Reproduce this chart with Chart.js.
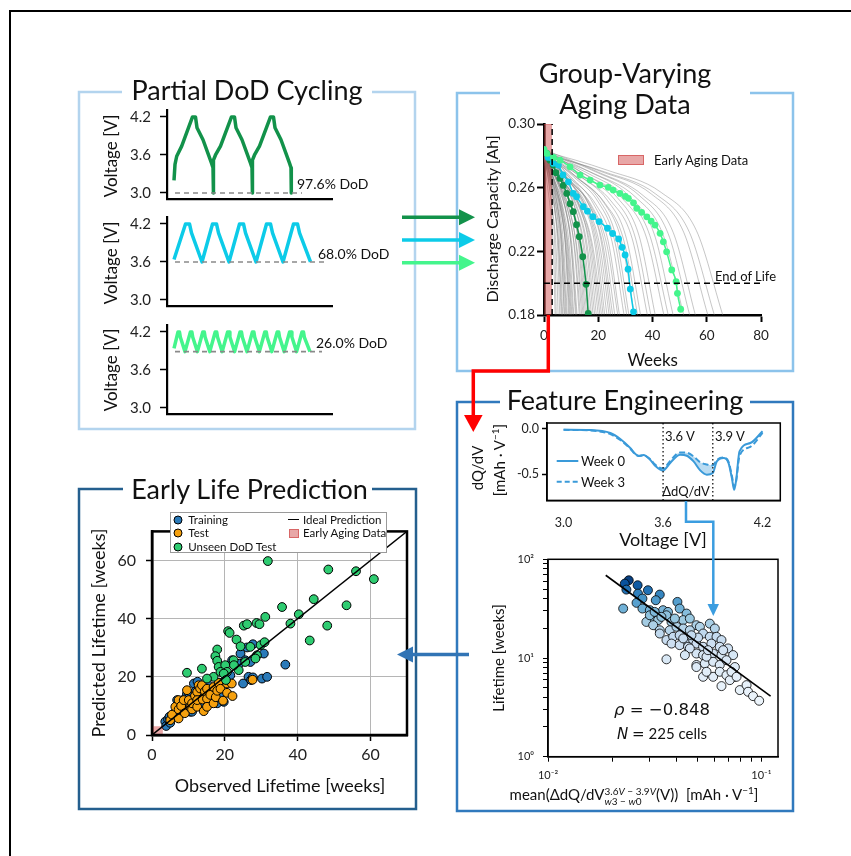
<!DOCTYPE html>
<html>
<head>
<meta charset="utf-8">
<script src="https://cdn.jsdelivr.net/npm/chart.js@4.4.1/dist/chart.umd.min.js"></script>
<style>
  html, body { margin: 0; padding: 0; background: #fff; }
  #fig { position: relative; width: 851px; height: 856px; overflow: hidden; font-family: Lato, sans-serif; color: #111; }
  #fig canvas { position: absolute; z-index: 1; }
  #fig svg { position: absolute; left: 0; top: 0; z-index: 2; }
  .t { position: absolute; z-index: 3; white-space: nowrap; line-height: 1; transform: translate(-50%, -50%); }
  .l { transform: translate(0, -50%); }
  .v { transform: translate(-50%, -50%) rotate(-90deg); }
  .ttl { font-size: 27px; background: #fff; }
  .math { font-family: "DejaVu Sans", sans-serif; }
  .ss { display: inline-block; vertical-align: middle; font-size: 10px; line-height: 10px; text-align: left; }
  .ss span { display: block; }
  #legPred { position: absolute; z-index: 3; left: 170px; top: 512px; width: 217px; height: 41px; border: 1px solid #9a9a9a; background: #fff; box-sizing: border-box; }
  .dot { position: absolute; width: 7px; height: 7px; border-radius: 50%; border: 1px solid #000; transform: translate(-50%, -50%); }
</style>
</head>
<body>
<div id="fig">
  <div style="position:absolute;left:9px;top:10px;width:900px;height:900px;border-left:2px solid #000;border-top:2px solid #000"></div>

  <svg width="851" height="856">
    <g fill="none" stroke-width="2.5">
      <path d="M372 92 H415 V429 H79 V92 H122" stroke="#b3d4ee"/>
      <path d="M750 93 H793 V371 H457 V93 H500" stroke="#8cc3eb"/>
      <path d="M750 402 H793 V811 H457 V402 H500" stroke="#3079bd"/>
      <path d="M372 489 H416 V809 H79 V489 H123" stroke="#245f8e"/>
    </g>
    <!-- arrows from the cycling panel -->
    <line x1="402" y1="217.3" x2="461" y2="217.3" stroke="#12924a" stroke-width="3.5"/>
    <polygon points="459,209.3 475,217.3 459,225.3" fill="#12924a"/>
    <line x1="402" y1="240" x2="461" y2="240" stroke="#0ccbe8" stroke-width="3.5"/>
    <polygon points="459,232 475,240 459,248" fill="#0ccbe8"/>
    <line x1="402" y1="262.7" x2="461" y2="262.7" stroke="#44f58c" stroke-width="3.5"/>
    <polygon points="459,254.7 475,262.7 459,270.7" fill="#44f58c"/>
    <!-- early data to features -->
    <polyline points="548.3,315 548.3,371 473.3,371 473.3,418" fill="none" stroke="#ff0000" stroke-width="3.5"/>
    <polygon points="464,415 482.6,415 473.3,432" fill="#ff0000"/>
    <!-- feature to correlation -->
    <polyline points="686,501 686,521.7 713.3,521.7 713.3,606" fill="none" stroke="#3b9de0" stroke-width="2.5"/>
    <polygon points="707.5,604 719,604 713.3,616" fill="#3b9de0"/>
    <!-- features to prediction -->
    <line x1="469" y1="654.5" x2="411" y2="654.5" stroke="#3174b5" stroke-width="3.5"/>
    <polygon points="413,646.5 413,662.5 397,654.5" fill="#3174b5"/>
    <!-- dQ/dV legend samples -->
    <line x1="556.7" y1="461" x2="578.3" y2="461" stroke="#3a9ad9" stroke-width="2"/>
    <line x1="556.7" y1="481.7" x2="578.3" y2="481.7" stroke="#3a9ad9" stroke-width="2" stroke-dasharray="5 3"/>
  </svg>

  <!-- panel titles -->
  <div class="t ttl" style="left:247px;top:89px;padding:0 4px">Partial DoD Cycling</div>
  <div class="t ttl" style="left:625px;top:72px">Group-Varying</div>
  <div class="t ttl" style="left:625px;top:102.5px;padding:0 4px">Aging Data</div>
  <div class="t ttl" style="left:625px;top:398.7px;padding:0 4px">Feature Engineering</div>
  <div class="t ttl" style="left:249.5px;top:488px;padding:0 4px">Early Life Prediction</div>

  <!-- cycling panel text -->
  <div class="t v" style="left:110px;top:156px;font-size:17px">Voltage [V]</div>
  <div class="t v" style="left:110px;top:263px;font-size:17px">Voltage [V]</div>
  <div class="t v" style="left:110px;top:370px;font-size:17px">Voltage [V]</div>
  <div class="t l" style="left:297px;top:184px;font-size:14px">97.6% DoD</div>
  <div class="t l" style="left:318px;top:254px;font-size:14px">68.0% DoD</div>
  <div class="t l" style="left:316px;top:343px;font-size:14px">26.0% DoD</div>

  <!-- aging panel text -->
  <div class="t v" style="left:491.7px;top:219px;font-size:16px">Discharge Capacity [Ah]</div>
  <div class="t" style="left:652.7px;top:359px;font-size:17px">Weeks</div>
  <div style="position:absolute;z-index:3;left:618px;top:155px;width:26px;height:10px;background:rgba(205,60,60,0.45);border:1px solid rgba(205,60,60,0.6);box-sizing:border-box"></div>
  <div class="t l" style="left:654px;top:160px;font-size:13px">Early Aging Data</div>
  <div class="t l" style="left:715px;top:276px;font-size:13px">End of Life</div>

  <!-- feature engineering text -->
  <div class="t v" style="left:476.7px;top:467.5px;font-size:15px">dQ/dV</div>
  <div class="t v" style="left:497.7px;top:460px;font-size:15px">[mAh · V<sup style="font-size:10px">−1</sup>]</div>
  <div class="t" style="left:663px;top:539.3px;font-size:18px">Voltage [V]</div>
  <div class="t l" style="left:665px;top:436px;font-size:13px">3.6 V</div>
  <div class="t l" style="left:715px;top:436px;font-size:13px">3.9 V</div>
  <div class="t" style="left:686px;top:490.7px;font-size:13px">ΔdQ/dV</div>
  <div class="t l" style="left:581px;top:461px;font-size:13px">Week 0</div>
  <div class="t l" style="left:581px;top:481.7px;font-size:13px">Week 3</div>
  <div class="t v" style="left:497.7px;top:657.5px;font-size:15px">Lifetime [weeks]</div>
  <div class="t" style="left:634px;top:796px;font-size:15px">mean(ΔdQ/dV<span class="ss"><span>3.6<i>V</i> − 3.9<i>V</i></span><span><i>w</i>3 − <i>w</i>0</span></span>(V))&nbsp; [mAh · V<sup style="font-size:10px">−1</sup>]</div>
  <div class="t math" style="left:662px;top:710px;font-size:16.5px"><i>ρ</i> = −0.848</div>
  <div class="t" style="left:662px;top:734px;font-size:15px"><i class="math">N</i> <span class="math">=</span> 225 cells</div>

  <!-- prediction panel text -->
  <div class="t v" style="left:98.3px;top:633px;font-size:18px">Predicted Lifetime [weeks]</div>
  <div class="t" style="left:280px;top:785px;font-size:18px">Observed Lifetime [weeks]</div>
  <div id="legPred">
    <div class="dot" style="left:6.7px;top:6.5px;background:#2a7ab9"></div>
    <div class="t l" style="left:17.3px;top:6.5px;font-size:11.5px">Training</div>
    <div class="dot" style="left:6.7px;top:20.2px;background:#f5a00e"></div>
    <div class="t l" style="left:17.3px;top:20.2px;font-size:11.5px">Test</div>
    <div class="dot" style="left:6.7px;top:34.2px;background:#2ecc71"></div>
    <div class="t l" style="left:17.3px;top:34.2px;font-size:11.5px">Unseen DoD Test</div>
    <div style="position:absolute;left:117px;top:5.8px;width:11px;height:1.5px;background:#000"></div>
    <div class="t l" style="left:132px;top:6.5px;font-size:11.5px">Ideal Prediction</div>
    <div style="position:absolute;left:118px;top:15.5px;width:10px;height:9px;background:rgba(205,60,60,0.45);border:1px solid rgba(205,60,60,0.6);box-sizing:border-box"></div>
    <div class="t l" style="left:132px;top:20.2px;font-size:11.5px">Early Aging Data</div>
  </div>
</div>

<script>
// ---- Partial DoD cycling: time (a.u.) vs voltage [V]
const voltTicks = [3.0, 3.6, 4.2];
const cycle97 = [[7,3.20],[8,3.45],[9.7,3.58],[14.7,3.74],[25.5,4.20],[28.5,4.20],[30,4.03],[36,3.84],[44.5,3.47],[46,3.40],[46.3,3.00],[46.6,3.52],[48.5,3.60],[53.5,3.74],[64.5,4.20],[67.5,4.20],[69,4.03],[75,3.84],[83.5,3.47],[85,3.40],[85.3,3.00],[85.6,3.52],[87.5,3.60],[92.5,3.74],[103.5,4.20],[106.5,4.20],[108,4.03],[114,3.84],[122.5,3.47],[124,3.40],[124.3,3.00]];
const cycle68 = [[7,3.64],[18.5,4.20],[22.5,4.20],[24.5,4.06],[35,3.60],[45.5,4.20],[49.5,4.20],[51.5,4.06],[62,3.60],[72.5,4.20],[76.5,4.20],[78.5,4.06],[89,3.60],[99.5,4.20],[103.5,4.20],[105.5,4.06],[116,3.60],[126.5,4.20],[130.5,4.20],[132.5,4.06],[143.5,3.60]];
const cycle26 = [[7,3.94],[11,4.20],[12.5,4.20],[13.3,4.12],[18,3.89],[23.4,4.20],[24.9,4.20],[25.7,4.12],[30.4,3.89],[35.8,4.20],[37.3,4.20],[38.1,4.12],[42.8,3.89],[48.2,4.20],[49.7,4.20],[50.5,4.12],[55.2,3.89],[60.6,4.20],[62.1,4.20],[62.9,4.12],[67.6,3.89],[73,4.20],[74.5,4.20],[75.3,4.12],[80,3.89],[85.4,4.20],[86.9,4.20],[87.7,4.12],[92.4,3.89],[97.8,4.20],[99.3,4.20],[100.1,4.12],[104.8,3.89],[110.2,4.20],[111.7,4.20],[112.5,4.12],[117.2,3.89],[122.6,4.20],[124.1,4.20],[124.9,4.12],[129.6,3.89],[135,4.20],[136.5,4.20],[137.3,4.12],[143,3.89]];
const floor97 = [[8,3.0],[135,3.0]];
const floor68 = [[8,3.6],[158,3.6]];
const floor26 = [[8,3.89],[155,3.89]];

// ---- Aging: weeks vs discharge capacity [Ah]
const agingXTicks = [0, 20, 40, 60, 80];
const agingYTicks = [0.18, 0.22, 0.26, 0.30];
const earlyWeeks = 3;
const endOfLife = 0.2;
const grayCurves = [
  [[0,.277],[1.2,.262],[2.6,.242],[3.5,.22],[4.1,.18]],
  [[0,.284],[1.5,.266],[3,.245],[4,.222],[4.5,.18]],
  [[0,.281],[1.8,.263],[3.4,.243],[4.5,.220],[5.2,.18]],
  [[0,.286],[2,.268],[3.8,.248],[5,.224],[5.8,.18]],
  [[0,.279],[2.2,.262],[4.1,.244],[5.4,.221],[6.3,.18]],
  [[0,.285],[2.3,.264],[4.3,.244],[5.6,.22],[6.6,.18]],
  [[0,.283],[2.4,.266],[4.5,.247],[5.9,.222],[6.9,.18]],
  [[0,.285],[2.6,.268],[4.9,.249],[6.4,.224],[7.4,.18]],
  [[0,.279],[2.5,.262],[5,.243],[6.5,.22],[7.6,.18]],
  [[0,.280],[2.8,.263],[5.2,.245],[6.8,.221],[8,.18]],
  [[0,.282],[2.9,.264],[5.4,.245],[7,.22],[8.3,.18]],
  [[0,.282],[3,.265],[5.6,.247],[7.3,.222],[8.6,.18]],
  [[0,.284],[3.2,.267],[6,.249],[7.8,.225],[9.1,.18]],
  [[0,.286],[3.3,.266],[6.1,.246],[8,.222],[9.4,.18]],
  [[0,.278],[3.4,.262],[6.3,.245],[8.2,.221],[9.7,.18]],
  [[0,.284],[3.5,.265],[6.5,.246],[8.5,.221],[10,.18]],
  [[0,.283],[3.6,.266],[6.7,.248],[8.7,.223],[10.3,.18]],
  [[0,.279],[3.8,.262],[7,.244],[9.1,.22],[10.7,.18]],
  [[0,.281],[3.9,.264],[7.2,.246],[9.4,.222],[11,.18]],
  [[0,.285],[4.1,.268],[7.6,.25],[9.9,.225],[11.6,.18]],
  [[0,.284],[4.2,.266],[7.8,.247],[10.1,.222],[11.9,.18]],
  [[0,.280],[4.3,.263],[8,.246],[10.4,.222],[12.2,.18]],
  [[0,.283],[4.6,.266],[8.5,.248],[11.1,.223],[13,.18]],
  [[0,.281],[4.7,.264],[8.7,.246],[11.4,.221],[13.4,.18]],
  [[0,.282],[4.9,.265],[9.1,.248],[11.9,.223],[13.9,.18]],
  [[0,.282],[5,.264],[9.5,.245],[12.3,.22],[14.4,.18]],
  [[0,.286],[5.2,.268],[9.7,.25],[12.6,.226],[14.8,.18]],
  [[0,.285],[5.4,.267],[10,.249],[13,.224],[15.3,.18]],
  [[0,.279],[5.6,.263],[10.4,.246],[13.5,.222],[15.8,.18]],
  [[0,.280],[5.8,.263],[10.8,.246],[14,.221],[16.4,.18]],
  [[0,.283],[6,.266],[11.1,.249],[14.4,.224],[16.9,.18]],
  [[0,.286],[6.2,.266],[11.5,.247],[15,.222],[17.5,.18]],
  [[0,.281],[6.4,.265],[11.9,.248],[15.5,.224],[18.1,.18]],
  [[0,.283],[6.6,.266],[12.2,.248],[15.9,.224],[18.7,.18]],
  [[0,.284],[6.8,.267],[12.6,.25],[16.4,.226],[19.3,.18]],
  [[0,.281],[7.1,.264],[13.1,.247],[17.1,.223],[20,.18]],
  [[0,.280],[7.3,.264],[13.5,.247],[17.6,.223],[20.6,.18]],
  [[0,.280],[7.5,.263],[14,.246],[18.2,.221],[21.2,.18]],
  [[0,.283],[7.7,.267],[14.3,.25],[18.6,.226],[21.8,.18]],
  [[0,.284],[7.9,.267],[14.7,.25],[19.1,.226],[22.4,.18]],
  [[0,.282],[8.2,.266],[15.2,.249],[19.8,.225],[23.2,.18]],
  [[0,.283],[8.5,.266],[16,.248],[20.5,.224],[24,.18]],
  [[0,.285],[8.7,.268],[16.1,.251],[21,.227],[24.6,.18]],
  [[0,.282],[9,.266],[16.6,.249],[21.6,.225],[25.3,.18]],
  [[0,.281],[9.2,.265],[17.1,.249],[22.3,.225],[26.1,.18]],
  [[0,.280],[9.6,.264],[17.8,.248],[23.2,.224],[27.2,.18]],
  [[0,.283],[9.8,.267],[18.2,.25],[23.7,.226],[27.8,.18]],
  [[0,.280],[10.4,.265],[19.3,.249],[25.1,.226],[29.5,.18]],
  [[0,.283],[10.8,.267],[20,.251],[26,.227],[30.5,.18]],
  [[0,.284],[11.1,.268],[20.5,.252],[26.7,.228],[31.3,.18]],
  [[0,.282],[11.8,.267],[21.9,.251],[28.5,.227],[33.4,.18]],
  [[0,.281],[12.2,.266],[22.6,.25],[29.4,.227],[34.5,.18]],
  [[0,.283],[12.6,.268],[23.4,.252],[30.4,.228],[35.6,.18]],
  [[0,.281],[13.5,.267],[25,.251],[32.5,.228],[38.1,.18]],
  [[0,.284],[13.9,.268],[25.8,.253],[33.6,.229],[39.4,.18]],
  [[0,.284],[14.5,.269],[26.9,.254],[35,.230],[41,.18]],
  [[0,.282],[15.6,.268],[29,.253],[37.7,.229],[44.2,.18]],
  [[0,.282],[16.2,.269],[30,.254],[39,.23],[45.8,.18]],
  [[0,.283],[16.8,.27],[31.2,.255],[40.6,.231],[47.6,.18]],
  [[0,.281],[18.2,.269],[33.8,.254],[44,.230],[51.5,.18]],
  [[0,.283],[19,.27],[35.2,.255],[45.8,.231],[53.7,.18]],
  [[0,.284],[19.7,.27],[36.6,.255],[47.6,.232],[55.8,.18]],
  [[0,.282],[21.3,.27],[39.6,.256],[51.5,.232],[60.4,.18]],
  [[0,.281],[22.2,.27],[41.2,.256],[53.6,.232],[62.8,.18]],
  [[0,.283],[23.3,.271],[43.2,.257],[56.2,.233],[65.9,.18]]
];
const cell97 = [[0,.2825],[1,.2815],[2.2,.2773],[3.4,.2742],[4.4,.2694],[5.9,.2658],[7.1,.2614],[8.4,.2564],[9.6,.2499],[10.8,.2449],[12,.2367],[13,.2292],[14.3,.2166],[15.5,.1993],[16.3,.181]];
const cell68 = [[0,.283],[1.5,.279],[3.4,.2753],[5.3,.2742],[7,.268],[9,.2637],[10.8,.2564],[12,.2543],[14.5,.248],[16,.2452],[18,.2418],[20.3,.2387],[23.4,.2345],[25.3,.2312],[27.5,.2278],[28.8,.2225],[29.9,.2177],[31,.2088],[31.8,.1963],[33,.182]];
const cell26 = [[0,.284],[1,.2815],[3.5,.279],[5.9,.2773],[9.6,.2731],[13.3,.2679],[17,.2648],[20.6,.2616],[23.7,.2602],[25.5,.2585],[28,.2564],[30,.2545],[31.1,.2533],[33,.2505],[34.2,.247],[36,.2445],[37.9,.2417],[39.5,.239],[40.9,.2365],[42.8,.2313],[44,.226],[45.2,.2197],[47.1,.2083],[48.7,.2009],[49.2,.1936],[50.4,.1836]];

// ---- dQ/dV: voltage [V] vs dQ/dV [mAh/V]
const dqdvXTicks = [3.0, 3.6, 4.2];
const dqdvYTicks = [-0.5, 0.0];
const dqdvV     = [3.0, 3.161, 3.282, 3.342, 3.402, 3.432, 3.452, 3.482, 3.522, 3.552, 3.6, 3.613, 3.643, 3.703, 3.743, 3.784, 3.824, 3.864, 3.9, 3.924, 3.965, 3.995, 4.015, 4.029, 4.041, 4.061, 4.126, 4.2];
const dqdvWeek0 = [-0.011, -0.015, -0.048, -0.114, -0.213, -0.276, -0.298, -0.291, -0.342, -0.408, -0.460, -0.445, -0.379, -0.287, -0.298, -0.361, -0.460, -0.508, -0.489, -0.361, -0.324, -0.379, -0.545, -0.674, -0.563, -0.250, -0.158, -0.029];
const dqdvWeek3 = [-0.012, -0.020, -0.060, -0.125, -0.220, -0.280, -0.300, -0.295, -0.335, -0.395, -0.440, -0.425, -0.355, -0.262, -0.265, -0.305, -0.370, -0.395, -0.405, -0.345, -0.318, -0.365, -0.520, -0.640, -0.575, -0.300, -0.200, -0.045];
const featureWindow = [3.6, 3.9];

// ---- correlation: mean delta dQ/dV vs lifetime [weeks]
const corrPoints = [[0.0239,61.3],[0.0229,56.7],[0.0233,49.3],[0.0263,54.6],[0.0294,48.6],[0.0225,31.7],[0.0264,44.9],[0.0277,40.0],[0.0334,43.9],[0.0320,38.5],[0.0260,36.2],[0.0277,31.7],[0.0404,37.0],[0.0300,30.5],[0.0346,30.5],[0.0365,29.3],[0.0414,31.7],[0.0446,28.2],[0.0305,25.1],[0.0328,24.2],[0.0359,27.1],[0.0379,23.2],[0.0430,24.2],[0.0462,25.1],[0.0496,21.5],[0.0289,23.2],[0.0311,21.5],[0.0334,19.1],[0.0372,19.1],[0.0400,20.7],[0.0430,19.9],[0.0462,19.1],[0.0515,20.7],[0.0573,22.3],[0.0605,19.9],[0.0334,17.7],[0.0359,15.2],[0.0386,16.4],[0.0414,17.0],[0.0446,15.2],[0.0479,15.2],[0.0533,17.7],[0.0573,16.4],[0.0616,16.4],[0.0650,15.2],[0.0379,14.0],[0.0414,13.5],[0.0453,13.0],[0.0496,14.0],[0.0533,13.0],[0.0583,14.0],[0.0638,13.0],[0.0698,12.5],[0.0359,9.7],[0.0496,11.1],[0.0533,10.7],[0.0594,11.1],[0.0650,10.7],[0.0737,10.7],[0.0496,8.5],[0.0543,8.8],[0.0594,9.15],[0.0638,8.5],[0.0686,9.5],[0.0751,8.1],[0.0533,6.45],[0.0594,6.45],[0.0638,7.25],[0.0686,6.7],[0.0751,6.45],[0.0650,5.19],[0.0711,5.97],[0.0792,4.73],[0.0852,5.31],[0.0866,4.55],[0.0914,4.11],[0.0976,3.69],[0.0496,8.1],[0.0553,7.25],[0.0462,12.5],[0.0430,15.8],[0.0724,7.25],[0.0765,6.45],[0.0553,10.3],[0.0505,16.1],[0.0438,10.7],[0.0300,27.1],[0.0316,29.3],[0.0340,26.1],[0.0393,25.1],[0.0470,17.0],[0.0662,12.0],[0.0562,12.0]];
const corrFit = [[0.01864,68.9],[0.1104,4.11]];
const corrYTicks = [1,2,3,4,5,6,7,8,9,10,20,30,40,50,60,70,80,90,100];
const corrXTicks = [0.01,0.02,0.03,0.04,0.05,0.06,0.07,0.08,0.09,0.1];

// ---- prediction: observed vs predicted lifetime [weeks]
const predTicks = [0, 20, 40, 60];
const trainPts = [[3.65,4.6],[3.9,3.1],[4.4,5.4],[4.8,6.3],[5.0,4.2],[5.6,6.9],[6.0,6.3],[6.5,8.0],[6.9,12.0],[6.9,8.6],[7.2,10.5],[7.8,10.9],[8.2,9.0],[8.5,12.0],[8.7,8.6],[9.4,11.8],[9.6,14.1],[10.1,14.5],[10.5,8.0],[10.8,12.2],[11.0,8.0],[11.5,17.7],[12.0,15.0],[12.5,18.3],[13.0,12.5],[13.3,15.2],[14.2,10.9],[15.1,17.7],[15.5,13.5],[16.5,14.3],[16.5,11.8],[17.4,12.6],[17.9,10.9],[18.5,18.0],[18.8,13.1],[19.0,14.0],[19.7,11.4],[19.7,22.9],[20.5,19.5],[21.5,20.5],[22.0,25.7],[24.0,24.5],[24.3,28.0],[25.0,17.7],[25.6,25.7],[26.1,30.1],[26.5,20.0],[27.0,25.1],[27.2,18.9],[27.7,31.2],[27.7,19.8],[30.2,19.4],[30.7,28.0],[31.6,20.0],[36.6,24.2]];
const testPts = [[5.0,5.1],[5.5,7.0],[6.4,9.7],[7.3,5.7],[7.3,8.8],[7.3,12.0],[8.0,10.0],[8.7,12.0],[9.0,7.5],[9.6,15.4],[10.1,12.0],[10.5,9.5],[11.0,8.8],[11.0,10.9],[11.8,13.5],[12.4,14.8],[12.4,9.7],[12.4,12.0],[12.8,17.1],[13.2,16.0],[13.7,17.1],[13.9,12.2],[14.2,8.2],[14.5,15.0],[15.1,15.9],[15.1,12.5],[15.1,9.7],[16.0,13.8],[16.9,16.5],[16.9,10.9],[17.5,13.0],[17.9,15.2],[18.3,17.9],[18.8,15.9],[19.5,11.8],[20.6,17.7],[20.6,14.5],[21.9,17.7],[22.1,13.4],[27.6,19.0]];
const unseenPts = [[31.8,59.8],[48.4,56.9],[56.0,56.3],[60.9,53.6],[35.7,44.0],[44.4,46.7],[40.3,41.5],[53.4,44.6],[38.0,38.3],[48.1,37.6],[43.3,32.5],[31.1,40.6],[28.7,38.5],[29.5,38.1],[25.2,37.6],[26.1,38.1],[20.9,35.7],[21.3,35.1],[23.2,32.8],[24.3,30.5],[27.0,30.3],[28.8,27.4],[29.8,30.9],[30.9,31.9],[17.9,29.4],[17.4,27.1],[13.7,22.8],[9.6,21.4],[17.9,25.5],[18.3,23.4],[20.1,24.0],[22.4,25.7],[20.6,21.7],[23.8,22.3],[22.5,24.0],[16.9,20.0],[18.8,21.7],[19.7,21.1],[15.1,19.4],[20.3,18.9],[25.6,25.1],[28.4,26.3]];
const idealLine = [[0,0],[70,70]];

Chart.defaults.font.family = 'Lato';
Chart.defaults.color = '#222';

const pts = a => a.map(([x, y]) => ({ x, y }));
const fig = document.getElementById('fig');

function axis(o) {
  return {
    type: o.type || 'linear', min: o.min, max: o.max,
    afterBuildTicks: s => { s.ticks = o.ticks.map(v => ({ value: v })); },
    ticks: { display: o.labels !== false, autoSkip: false, maxRotation: 0, padding: o.pad ?? 3,
             font: { size: o.size || 13 }, color: '#222', callback: o.fmt || (v => v) },
    grid: { display: true, drawOnChartArea: !!o.grid, color: o.grid || 'transparent', lineWidth: 1,
            drawTicks: (o.tick || 0) > 0, tickLength: o.tick || 0, tickColor: '#000', tickWidth: o.tickW || 1.5 },
    border: { display: true, color: '#000', width: o.bw || 2 }
  };
}

const boxFrame = lw => ({
  id: 'boxFrame',
  afterDatasetsDraw(chart) {
    const { ctx, chartArea: a } = chart;
    ctx.save();
    ctx.strokeStyle = '#000';
    ctx.lineWidth = lw;
    ctx.strokeRect(a.left, a.top, a.right - a.left, a.bottom - a.top);
    ctx.restore();
  }
});

// plot = page coords of the axes box, m = room for ticks around it
function makeChart(plot, m, datasets, x, y, extra) {
  const c = document.createElement('canvas');
  const w = Math.round(plot.r - plot.l + m.l + m.r), h = Math.round(plot.b - plot.t + m.t + m.b);
  c.width = w; c.height = h;
  c.style.left = (plot.l - m.l) + 'px';
  c.style.top = (plot.t - m.t) + 'px';
  c.style.width = w + 'px'; c.style.height = h + 'px';
  fig.appendChild(c);
  x.afterFit = s => { s.height = h - m.t - (plot.b - plot.t); s.paddingLeft = 0; s.paddingRight = 0; };
  y.afterFit = s => { s.width = m.l; s.paddingTop = 0; s.paddingBottom = 0; };
  return new Chart(c, {
    type: 'scatter',
    data: { datasets },
    options: {
      responsive: false, animation: false, events: [],
      layout: { padding: { left: 0, top: m.t, right: w - m.l - (plot.r - plot.l), bottom: 0 } },
      plugins: { legend: { display: false }, tooltip: { enabled: false } },
      scales: { x, y }
    },
    plugins: extra || []
  });
}

const line = (data, color, width, extra) => Object.assign({
  data: pts(data), showLine: true, borderColor: color, borderWidth: width, pointRadius: 0, fill: false
}, extra || {});

// ---- Partial DoD cycling (three stacked axes)
const cycles = [
  { trace: cycle97, floor: floor97, color: '#12924a', top: 110 },
  { trace: cycle68, floor: floor68, color: '#0ccbe8', top: 217 },
  { trace: cycle26, floor: floor26, color: '#44f58c', top: 325 }
];
cycles.forEach(cy => {
  makeChart({ l: 167, r: 332, t: cy.top, b: cy.top + 89 }, { l: 50, r: 6, t: 4, b: 4 },
    [
      line(cy.trace, cy.color, 3.5, { borderJoinStyle: 'round', order: 1 }),
      line(cy.floor, '#8a8a8a', 1.6, { borderDash: [5, 4], order: 0 })
    ],
    axis({ min: 0, max: 165, ticks: [], labels: false, tick: 0, bw: 2.2 }),
    axis({ min: 2.905, max: 4.31, ticks: voltTicks, tick: 7, pad: 9, size: 15, bw: 2.2, fmt: v => v.toFixed(1) })
  );
});

// ---- Group-varying aging data
const agingSets = [];
const marked = (data, color) => line(data, color, 1.5, { pointRadius: 3.4, pointBackgroundColor: color, pointBorderWidth: 0, cubicInterpolationMode: 'monotone', order: 1 });
agingSets.push(marked(cell26, '#44f58c'));
agingSets.push(marked(cell68, '#0ccbe8'));
agingSets.push(marked(cell97, '#12924a'));
agingSets.push(line([[0, endOfLife], [80, endOfLife]], '#000', 1.5, { borderDash: [6, 4], order: 0 }));
agingSets.push(line([[earlyWeeks, 0.18], [earlyWeeks, 0.30]], '#000', 1.5, { borderDash: [6, 4], order: 0 }));
agingSets.push(line([[0, 0.30], [earlyWeeks, 0.30]], 'rgba(205,60,60,0.6)', 1, { fill: 'start', backgroundColor: 'rgba(205,60,60,0.45)', order: 2 }));
grayCurves.forEach(cv => agingSets.push(line(cv, 'rgba(120,120,120,0.42)', 1, { cubicInterpolationMode: 'monotone', order: 3 })));
makeChart({ l: 544, r: 761, t: 124, b: 315 }, { l: 44, r: 20, t: 6, b: 30 }, agingSets,
  axis({ min: 0, max: 80, ticks: agingXTicks, tick: 7, pad: 6, size: 13.5, bw: 2.6, tickW: 2 }),
  axis({ min: 0.18, max: 0.30, ticks: agingYTicks, tick: 7, pad: 2, size: 13.5, bw: 2.6, tickW: 2, fmt: v => v.toFixed(2) })
);

// ---- dQ/dV curves with the feature window
const inWindow = dqdvV.map((v, i) => i).filter(i => dqdvV[i] >= featureWindow[0] && dqdvV[i] <= featureWindow[1]);
const w0 = dqdvV.map((v, i) => [v, dqdvWeek0[i]]);
const w3 = dqdvV.map((v, i) => [v, dqdvWeek3[i]]);
makeChart({ l: 546.7, r: 780, t: 423.3, b: 500.7 }, { l: 40, r: 8, t: 5, b: 32 },
  [
    line(inWindow.map(i => w0[i]), 'rgba(0,0,0,0)', 0, { cubicInterpolationMode: 'monotone', order: 3 }),
    line(inWindow.map(i => w3[i]), 'rgba(0,0,0,0)', 0, { cubicInterpolationMode: 'monotone', fill: '-1', backgroundColor: 'rgba(58,154,217,0.35)', order: 3 }),
    line(w0, '#3a9ad9', 2, { cubicInterpolationMode: 'monotone', order: 1 }),
    line(w3, '#3a9ad9', 2, { cubicInterpolationMode: 'monotone', borderDash: [6, 3], order: 1 }),
    line([[featureWindow[0], -0.791], [featureWindow[0], 0.063]], '#000', 1.2, { borderDash: [1.5, 2.5], order: 0 }),
    line([[featureWindow[1], -0.791], [featureWindow[1], 0.063]], '#000', 1.2, { borderDash: [1.5, 2.5], order: 0 })
  ],
  axis({ min: 2.9, max: 4.307, ticks: dqdvXTicks, tick: 0, pad: 15, size: 12.5, bw: 1.5, fmt: v => v.toFixed(1) }),
  axis({ min: -0.791, max: 0.063, ticks: dqdvYTicks, tick: 5, pad: 3, size: 12.5, bw: 1.5, fmt: v => v.toFixed(1) }),
  [boxFrame(1.5)]
);

// ---- lifetime correlation (log-log)
const bluesStops = ['#f7fbff', '#deebf7', '#c6dbef', '#9ecae1', '#6baed6', '#4292c6', '#2171b5', '#08519c', '#08306b'];
function blues(t) {
  t = Math.max(0, Math.min(1, t)) * (bluesStops.length - 1);
  const i = Math.min(Math.floor(t), bluesStops.length - 2), f = t - i;
  const a = parseInt(bluesStops[i].slice(1), 16), b = parseInt(bluesStops[i + 1].slice(1), 16);
  const ch = s => Math.round(((a >> s) & 255) * (1 - f) + ((b >> s) & 255) * f);
  return `rgb(${ch(16)},${ch(8)},${ch(0)})`;
}
const supPow = { '-2': '10⁻²', '-1': '10⁻¹', '0': '10⁰', '1': '10¹', '2': '10²' };
const powLabel = v => { const p = Math.log10(v); return Math.abs(p - Math.round(p)) < 1e-9 ? supPow[Math.round(p)] : ''; };
makeChart({ l: 548.3, r: 778.3, t: 559, b: 756.7 }, { l: 40, r: 8, t: 5, b: 28 },
  [
    line(corrFit, '#000', 1.6, { order: 0 }),
    { data: pts(corrPoints), pointRadius: 4.5, pointBorderWidth: 0.8, pointBorderColor: '#000',
      pointBackgroundColor: corrPoints.map(p => blues(p[1] / 65)), order: 1 }
  ],
  axis({ type: 'logarithmic', min: 0.01, max: 0.1196, ticks: corrXTicks, tick: 5, pad: 7, size: 11, bw: 1.5, tickW: 1, fmt: powLabel }),
  axis({ type: 'logarithmic', min: 1, max: 100, ticks: corrYTicks, tick: 5, pad: 9, size: 11, bw: 1.5, tickW: 1, fmt: powLabel }),
  [boxFrame(1.5)]
);

// ---- early life prediction
const dotSet = (data, color, order) => ({ data: pts(data), pointRadius: 4.4, pointBorderWidth: 1, pointBorderColor: '#000', pointBackgroundColor: color, order });
makeChart({ l: 151.7, r: 406.7, t: 531, b: 735 }, { l: 50, r: 8, t: 5, b: 32 },
  [
    line(idealLine, '#000', 1.5, { order: 0 }),
    line([[0, earlyWeeks], [earlyWeeks, earlyWeeks]], 'rgba(0,0,0,0)', 0, { fill: 'start', backgroundColor: 'rgba(205,60,60,0.45)', order: 0 }),
    dotSet(unseenPts, '#2ecc71', 1),
    dotSet(testPts, '#f5a00e', 2),
    dotSet(trainPts, '#2a7ab9', 3)
  ],
  axis({ min: 0, max: 70, ticks: predTicks, tick: 6, pad: 4, size: 16, bw: 2.5, grid: '#b5b5b5' }),
  axis({ min: 0, max: 70, ticks: predTicks, tick: 6, pad: 10, size: 16, bw: 2.5, grid: '#b5b5b5' }),
  [boxFrame(2.5)]
);
</script>
</body>
</html>
